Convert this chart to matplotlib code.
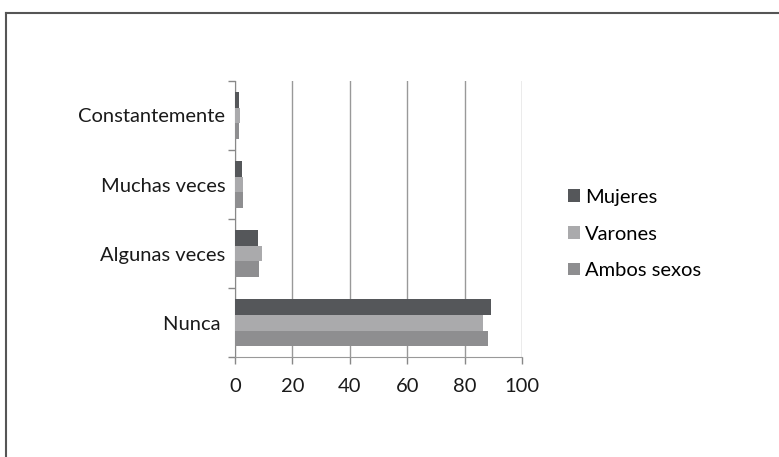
import numpy as np
import matplotlib
matplotlib.use("Agg")
import matplotlib.pyplot as plt
from matplotlib.patches import Patch
from matplotlib.lines import Line2D

categories = ["Nunca ", "Algunas veces", "Muchas veces", "Constantemente"]
series = ["Mujeres", "Varones", "Ambos sexos"]
mujeres = [89.1, 7.9, 2.4, 1.5]
varones = [86.3, 9.3, 2.9, 1.8]
ambos = [88.0, 8.4, 2.9, 1.5]
xticks = [0, 20, 40, 60, 80, 100]

colors = ["#55575a", "#aaaaac", "#8e8e90"]

plt.rcParams['font.family'] = ['Lato', 'DejaVu Sans']
fs = 14.5

fig = plt.figure(figsize=(7.79, 4.57), dpi=100)
ax = fig.add_axes([0.3017, 0.218, 0.3684, 0.605])

y = np.arange(len(categories))
h = 0.225
for vals, off, col in zip([mujeres, varones, ambos], [h, 0, -h], colors):
    ax.barh(y + off, vals, height=h, color=col, zorder=3)

ax.set_xlim(0, 100)
ax.set_ylim(-0.5, len(categories) - 0.5)
ax.set_xticks(xticks)
ax.set_xticklabels([str(v) for v in xticks], fontsize=fs, color="#1a1a1a")
ax.set_yticks(y)
ax.set_yticklabels(categories, fontsize=fs, color="#1a1a1a")
ax.set_yticks(np.arange(len(categories) + 1) - 0.5, minor=True)
ax.tick_params(axis="y", which="major", length=0, pad=7)
ax.tick_params(axis="y", which="minor", length=5, color="#888888", width=1)
ax.tick_params(axis="x", length=5, color="#888888", width=1, pad=10)
ax.grid(axis="x", color="#999999", linewidth=1, zorder=0)
for s in ["top", "right"]:
    ax.spines[s].set_visible(False)
ax.spines["left"].set_color("#888888")
ax.spines["bottom"].set_color("#999999")

handles = [Patch(facecolor=c, edgecolor="none") for c in colors]
fig.legend(handles, series, loc="center left", bbox_to_anchor=(568 / 779, 1 - 234 / 457),
           frameon=False, fontsize=fs, handlelength=0.6, handleheight=0.6,
           handletextpad=0.25, labelspacing=0.97, borderaxespad=0, borderpad=0)

# outer frame (only top and left edges visible in the crop)
fig.add_artist(Line2D([5.5 / 779, 5.5 / 779], [0, 1 - 12.5 / 457], color="#555555", linewidth=1.5,
                      transform=fig.transFigure))
fig.add_artist(Line2D([5.5 / 779, 1], [1 - 12.5 / 457, 1 - 12.5 / 457], color="#555555", linewidth=1.5,
                      transform=fig.transFigure))

fig.savefig("out.png", dpi=100)
